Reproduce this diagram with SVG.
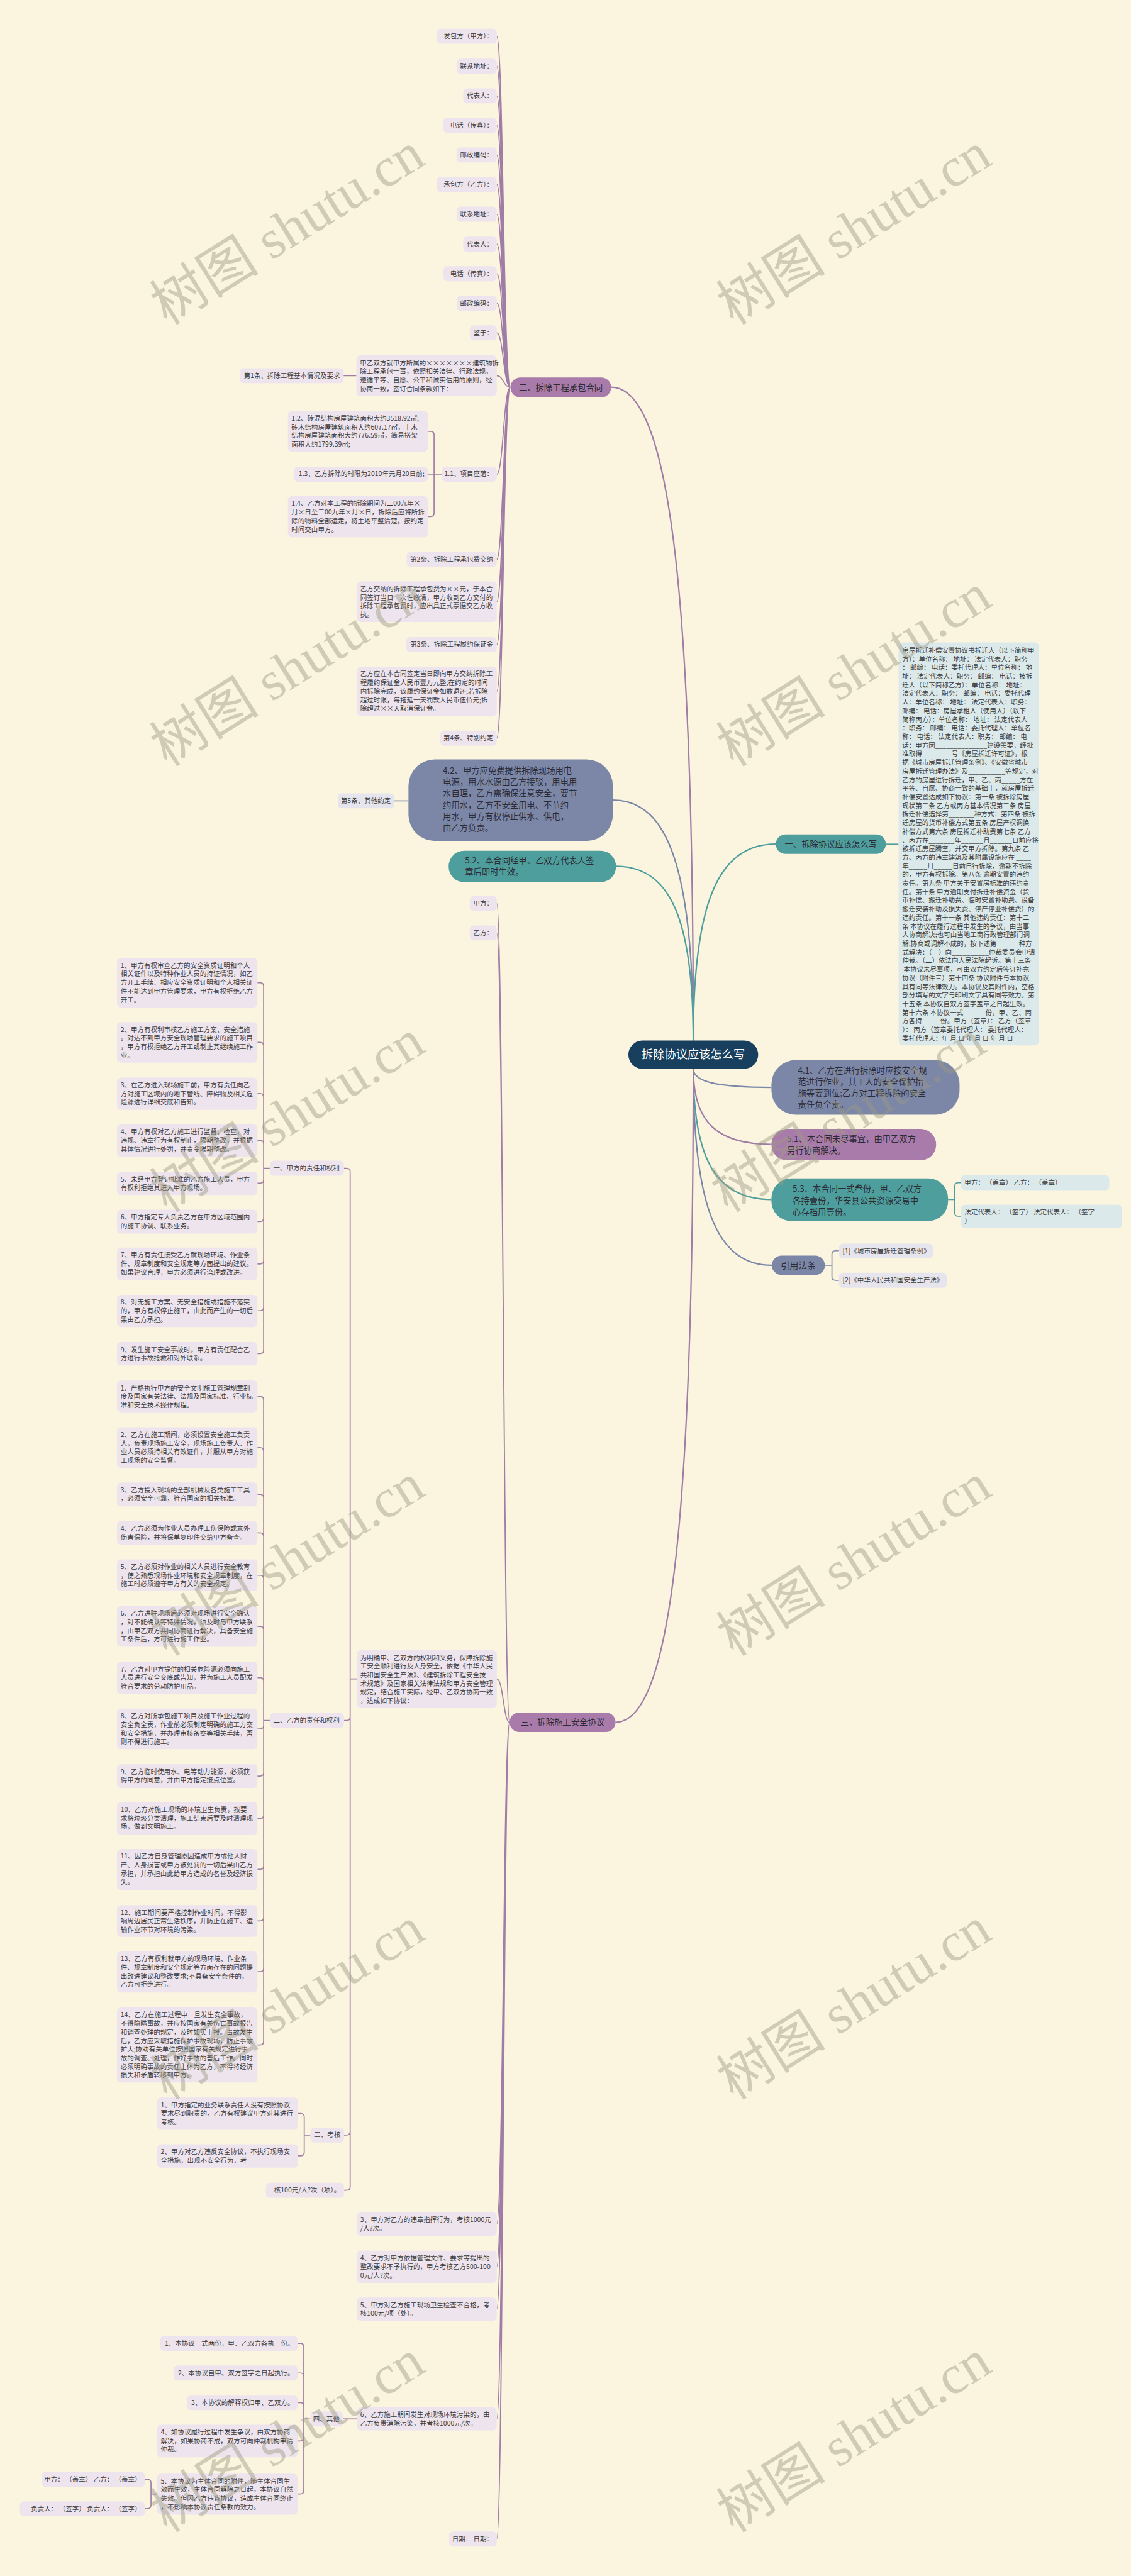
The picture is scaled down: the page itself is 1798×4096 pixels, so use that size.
<svg xmlns="http://www.w3.org/2000/svg" width="1798" height="4096" viewBox="0 0 1798 4096">
<style>
.t{font-family:'Noto Sans CJK SC','Noto Sans',sans-serif;font-size:15px;fill:#3a3a3a}
.e{text-anchor:end}
.m{text-anchor:middle}
.b{font-size:19px;fill:#2c2c36}
.w{fill:#ffffff}
.bx{fill:#EDE4EE}
.bb{fill:#DCE9EB}
.bs{fill:#E6E5EE}
.cp{fill:none;stroke:#A07DA6;stroke-width:2.4}
.cs{fill:none;stroke:#7C87A8;stroke-width:2.4}
.ct{fill:none;stroke:#4E9E9D;stroke-width:2.4}
.k{stroke-width:3.2}
.wm{font-family:'Liberation Serif','Noto Sans CJK SC',serif;font-size:124px;fill:#9c9a84;opacity:0.45}
</style>
<rect x="0" y="0" width="1798" height="4096" fill="#FBF5DF"/>
<g transform="scale(0.702)">
<g id="connectors">
<path class="cp k" d="M1570,2357 C1570,1321 1514,877 1384,877"/>
<path class="cs k" d="M1570,2357 C1570,1976 1515,1812 1388,1812"/>
<path class="ct k" d="M1570,2357 C1570,2080 1517,1962 1395,1962"/>
<path class="ct k" d="M1570,2357 C1570,2045 1626,1912 1757,1912"/>
<path class="cs k" d="M1570,2421 C1570,2450 1623,2463 1747,2463"/>
<path class="cp k" d="M1570,2421 C1570,2541 1623,2592 1747,2592"/>
<path class="ct k" d="M1570,2421 C1570,2628 1623,2717 1747,2717"/>
<path class="cs k" d="M1570,2421 C1570,2732 1623,2866 1748,2866"/>
<path class="cp k" d="M1570,2421 C1570,3457 1517,3901 1394,3901"/>
<path class="cp" d="M1156,877 C1140,877 1140,82 1125,82 M1156,877 C1140,877 1140,150 1125,150 M1156,877 C1140,877 1140,217 1125,217 M1156,877 C1140,877 1140,284 1125,284 M1156,877 C1140,877 1140,351 1125,351 M1156,877 C1140,877 1140,418 1125,418 M1156,877 C1140,877 1140,485 1125,485 M1156,877 C1140,877 1140,553 1125,553 M1156,877 C1140,877 1140,620 1125,620 M1156,877 C1140,877 1140,687 1125,687 M1156,877 C1140,877 1140,754 1125,754 M1156,877 C1140,877 1140,851 1125,851 M1156,877 C1140,877 1140,1074 1125,1074 M1156,877 C1140,877 1140,1267 1125,1267 M1156,877 C1140,877 1140,1363 1125,1363 M1156,877 C1140,877 1140,1460 1125,1460 M1156,877 C1140,877 1140,1566 1125,1566 M1156,877 C1140,877 1140,1672 1125,1672"/>
<path class="cp" d="M807,851 H778"/>
<path class="cp" d="M1000,1074 H983 V985 Q983,977 975,977 H969 M1000,1074 H969 M1000,1074 H983 V1162 Q983,1170 975,1170 H969"/>
<path class="cs" d="M925,1814 H893"/>
<path class="ct" d="M2006,1912 H2035"/>
<path class="ct" d="M2147,2717 H2162 V2687 Q2162,2679 2170,2679 H2176 M2147,2717 H2162 V2747 Q2162,2755 2170,2755 H2176"/>
<path class="cs" d="M1868,2866 H1884 V2841 Q1884,2833 1892,2833 H1900 M1868,2866 H1884 V2892 Q1884,2900 1892,2900 H1900"/>
<path class="cp" d="M1154,3901 C1140,3901 1140,2046 1125,2046 M1154,3901 C1140,3901 1140,2113 1125,2113 M1154,3901 C1140,3901 1140,3803 1125,3803 M1154,3901 C1140,3901 1140,5037 1125,5037 M1154,3901 C1140,3901 1140,5134 1125,5134 M1154,3901 C1140,3901 1140,5230 1125,5230 M1154,3901 C1140,3901 1140,5479 1125,5479 M1154,3901 C1140,3901 1140,5751 1125,5751"/>
<path class="cp" d="M808,3803 H793 V2654 Q793,2646 785,2646 H779 M808,3803 H793 V3889 Q793,3897 785,3897 H779 M808,3803 H793 V4828 Q793,4836 785,4836 H779 M808,3803 H793 V4953 Q793,4961 785,4961 H779"/>
<path class="cp" d="M611,2646 H597 V2234 Q597,2226 589,2226 H583 M611,2646 H597 V2369 Q597,2361 589,2361 H583 M611,2646 H597 V2485 Q597,2477 589,2477 H583 M611,2646 H597 V2591 Q597,2583 589,2583 H583 M611,2646 H597 V2672 Q597,2680 589,2680 H583 M611,2646 H597 V2759 Q597,2767 589,2767 H583 M611,2646 H597 V2855 Q597,2863 589,2863 H583 M611,2646 H597 V2961 Q597,2969 589,2969 H583 M611,2646 H597 V3058 Q597,3066 589,3066 H583"/>
<path class="cp" d="M611,3897 H597 V3171 Q597,3163 589,3163 H583 M611,3897 H597 V3287 Q597,3279 589,3279 H583 M611,3897 H597 V3393 Q597,3385 589,3385 H583 M611,3897 H597 V3480 Q597,3472 589,3472 H583 M611,3897 H597 V3576 Q597,3568 589,3568 H583 M611,3897 H597 V3692 Q597,3684 589,3684 H583 M611,3897 H597 V3808 Q597,3800 589,3800 H583 M611,3897 H597 V3908 Q597,3916 589,3916 H583 M611,3897 H597 V4015 Q597,4023 589,4023 H583 M611,3897 H597 V4111 Q597,4119 589,4119 H583 M611,3897 H597 V4226 Q597,4234 589,4234 H583 M611,3897 H597 V4343 Q597,4351 589,4351 H583 M611,3897 H597 V4458 Q597,4466 589,4466 H583 M611,3897 H597 V4624 Q597,4632 589,4632 H583"/>
<path class="cp" d="M703,4836 H689 V4795 Q689,4787 681,4787 H675 M703,4836 H689 V4875 Q689,4883 681,4883 H675"/>
<path class="cp" d="M808,5479 H777"/>
<path class="cp" d="M703,5479 H688 V5316 Q688,5308 680,5308 H674 M703,5479 H688 V5383 Q688,5375 680,5375 H674 M703,5479 H688 V5450 Q688,5442 680,5442 H674 M703,5479 H688 V5521 Q688,5529 680,5529 H674 M703,5479 H688 V5641 Q688,5649 680,5649 H674"/>
<path class="cp" d="M356,5649 H342 V5624 Q342,5616 334,5616 H328 M356,5649 H342 V5674 Q342,5682 334,5682 H328"/>
</g>

<g id="center"><rect x="1423" y="2357" width="294" height="64" rx="32" fill="#183F5E"/><text class="t m w" x="1570" y="2398" style="font-size:26px">拆除协议应该怎么写</text></g>

<g id="n-er"><rect x="1156" y="855" width="228" height="45" rx="22.5" fill="#A97BAB"/><text class="t b m" x="1270" y="884">二、拆除工程承包合同</text></g>
<g id="n-fbf"><rect class="bx" x="989" y="65" width="136" height="34" rx="9"/><text class="t e" x="1117" y="87">发包方（甲方）：</text></g>
<g id="n-lx1"><rect class="bx" x="1034" y="133" width="91" height="34" rx="9"/><text class="t e" x="1117" y="155">联系地址：</text></g>
<g id="n-db1"><rect class="bx" x="1049" y="200" width="76" height="34" rx="9"/><text class="t e" x="1117" y="222">代表人：</text></g>
<g id="n-dh1"><rect class="bx" x="1004" y="267" width="121" height="34" rx="9"/><text class="t e" x="1117" y="289">电话（传真）：</text></g>
<g id="n-yb1"><rect class="bx" x="1034" y="334" width="91" height="34" rx="9"/><text class="t e" x="1117" y="356">邮政编码：</text></g>
<g id="n-cbf"><rect class="bx" x="989" y="401" width="136" height="34" rx="9"/><text class="t e" x="1117" y="423">承包方（乙方）：</text></g>
<g id="n-lx2"><rect class="bx" x="1034" y="468" width="91" height="34" rx="9"/><text class="t e" x="1117" y="490">联系地址：</text></g>
<g id="n-db2"><rect class="bx" x="1049" y="536" width="76" height="34" rx="9"/><text class="t e" x="1117" y="558">代表人：</text></g>
<g id="n-dh2"><rect class="bx" x="1004" y="603" width="121" height="34" rx="9"/><text class="t e" x="1117" y="625">电话（传真）：</text></g>
<g id="n-yb2"><rect class="bx" x="1034" y="670" width="91" height="34" rx="9"/><text class="t e" x="1117" y="692">邮政编码：</text></g>
<g id="n-jy"><rect class="bx" x="1064" y="737" width="61" height="34" rx="9"/><text class="t e" x="1117" y="759">鉴于：</text></g>
<g id="n-jyss"><rect class="bx" x="807" y="805" width="318" height="92" rx="9"/><text class="t" x="815" y="827"><tspan x="815">甲乙双方就甲方所属的×××××××建筑物拆</tspan><tspan x="815" dy="19.5">除工程承包一事，依照相关法律、行政法规，</tspan><tspan x="815" dy="19.5">遵循平等、自愿、公平和诚实信用的原则，经</tspan><tspan x="815" dy="19.5">协商一致，签订合同条款如下：</tspan></text></g>
<g id="n-t1"><rect class="bx" x="543" y="834" width="235" height="34" rx="9"/><text class="t e" x="770" y="856">第1条、拆除工程基本情况及要求</text></g>
<g id="n-11"><rect class="bx" x="1000" y="1057" width="125" height="34" rx="9"/><text class="t e" x="1117" y="1079">1.1、项目座落：</text></g>
<g id="n-12"><rect class="bx" x="652" y="931" width="317" height="92" rx="9"/><text class="t" x="660" y="953"><tspan x="660">1.2、砖混结构房屋建筑面积大约3518.92㎡;</tspan><tspan x="660" dy="19.5">砖木结构房屋建筑面积大约607.17㎡，土木</tspan><tspan x="660" dy="19.5">结构房屋建筑面积大约776.59㎡，简易搭架</tspan><tspan x="660" dy="19.5">面积大约1799.39㎡;</tspan></text></g>
<g id="n-13"><rect class="bx" x="665" y="1057" width="304" height="34" rx="9"/><text class="t e" x="961" y="1079">1.3、乙方拆除的时限为2010年元月20日前;</text></g>
<g id="n-14"><rect class="bx" x="652" y="1124" width="317" height="93" rx="9"/><text class="t" x="660" y="1146"><tspan x="660">1.4、乙方对本工程的拆除期间为二00九年×</tspan><tspan x="660" dy="19.5">月×日至二00九年×月×日，拆除后应将所拆</tspan><tspan x="660" dy="19.5">除的物料全部运走，将土地平整清楚，按约定</tspan><tspan x="660" dy="19.5">时间交由甲方。</tspan></text></g>
<g id="n-t2"><rect class="bx" x="921" y="1250" width="204" height="34" rx="9"/><text class="t e" x="1117" y="1272">第2条、拆除工程承包费交纳</text></g>
<g id="n-jn"><rect class="bx" x="808" y="1317" width="317" height="92" rx="9"/><text class="t" x="816" y="1339"><tspan x="816">乙方交纳的拆除工程承包费为××元，于本合</tspan><tspan x="816" dy="19.5">同签订当日一次性缴清，甲方收到乙方交付的</tspan><tspan x="816" dy="19.5">拆除工程承包费时，应出具正式票据交乙方收</tspan><tspan x="816" dy="19.5">执。</tspan></text></g>
<g id="n-t3"><rect class="bx" x="920" y="1443" width="205" height="34" rx="9"/><text class="t e" x="1117" y="1465">第3条、拆除工程履约保证金</text></g>
<g id="n-bzj"><rect class="bx" x="808" y="1510" width="317" height="112" rx="9"/><text class="t" x="816" y="1532"><tspan x="816">乙方应在本合同签定当日即向甲方交纳拆除工</tspan><tspan x="816" dy="19.5">程履约保证金人民币壹万元整;在约定的时间</tspan><tspan x="816" dy="19.5">内拆除完成，该履约保证金如数退还;若拆除</tspan><tspan x="816" dy="19.5">超过时限，每拖延一天罚款人民币伍佰元;拆</tspan><tspan x="816" dy="19.5">除超过××天取消保证金。</tspan></text></g>
<g id="n-t4"><rect class="bx" x="997" y="1655" width="128" height="34" rx="9"/><text class="t e" x="1117" y="1677">第4条、特别约定</text></g>

<g id="n-42"><rect x="925" y="1720" width="463" height="185" rx="60" fill="#7C87A8"/><text class="t b" x="1003" y="1752"><tspan x="1003">4.2、甲方应免费提供拆除现场用电</tspan><tspan x="1003" dy="26">电源，用水水源由乙方接驳，用电用</tspan><tspan x="1003" dy="26">水自理，乙方需确保注意安全，要节</tspan><tspan x="1003" dy="26">约用水，乙方不安全用电、不节约</tspan><tspan x="1003" dy="26">用水，甲方有权停止供水、供电，</tspan><tspan x="1003" dy="26">由乙方负责。</tspan></text></g>
<g id="n-t5"><rect class="bs" x="765" y="1797" width="128" height="34" rx="9"/><text class="t e" x="885" y="1819">第5条、其他约定</text></g>
<g id="n-52"><rect x="1016" y="1927" width="379" height="71" rx="35" fill="#4E9E9D"/><text class="t b" x="1053" y="1956"><tspan x="1053">5.2、本合同经甲、乙双方代表人签</tspan><tspan x="1053" dy="26">章后即时生效。</tspan></text></g>
<g id="n-jf"><rect class="bx" x="1064" y="2029" width="61" height="34" rx="9"/><text class="t e" x="1117" y="2051">甲方：</text></g>
<g id="n-yf"><rect class="bx" x="1064" y="2096" width="61" height="34" rx="9"/><text class="t e" x="1117" y="2118">乙方：</text></g>

<g id="n-yi"><rect x="1757" y="1890" width="249" height="44" rx="22" fill="#4E9E9D"/><text class="t b m" x="1881.5" y="1919">一、拆除协议应该怎么写</text></g>
<g id="n-block"><rect class="bb" x="2035" y="1455" width="318" height="913" rx="10"/><text class="t" x="2043" y="1478.5"><tspan x="2043">房屋拆迁补偿安置协议书拆迁人（以下简称甲</tspan><tspan x="2043" dy="19.53">方）：单位名称： 地址： 法定代表人：职务</tspan><tspan x="2043" dy="19.53">： 邮编： 电话：委托代理人：单位名称： 地</tspan><tspan x="2043" dy="19.53">址： 法定代表人：职务： 邮编： 电话：被拆</tspan><tspan x="2043" dy="19.53">迁人（以下简称乙方）：单位名称： 地址：</tspan><tspan x="2043" dy="19.53">法定代表人：职务： 邮编： 电话：委托代理</tspan><tspan x="2043" dy="19.53">人：单位名称： 地址： 法定代表人：职务：</tspan><tspan x="2043" dy="19.53">邮编： 电话：房屋承租人（使用人）（以下</tspan><tspan x="2043" dy="19.53">简称丙方）：单位名称： 地址： 法定代表人</tspan><tspan x="2043" dy="19.53">：职务： 邮编： 电话：委托代理人：单位名</tspan><tspan x="2043" dy="19.53">称： 电话： 法定代表人：职务： 邮编： 电</tspan><tspan x="2043" dy="19.53">话：甲方因______________建设需要，经批</tspan><tspan x="2043" dy="19.53">准取得________号《房屋拆迁许可证》，根</tspan><tspan x="2043" dy="19.53">据《城市房屋拆迁管理条例》、《安徽省城市</tspan><tspan x="2043" dy="19.53">房屋拆迁管理办法》及__________等规定，对</tspan><tspan x="2043" dy="19.53">乙方的房屋进行拆迁，甲、乙、丙_____方在</tspan><tspan x="2043" dy="19.53">平等、自愿、协商一致的基础上，就房屋拆迁</tspan><tspan x="2043" dy="19.53">补偿安置达成如下协议：第一条 被拆除房屋</tspan><tspan x="2043" dy="19.53">现状第二条 乙方或丙方基本情况第三条 房屋</tspan><tspan x="2043" dy="19.53">拆迁补偿选择第_______种方式：第四条 被拆</tspan><tspan x="2043" dy="19.53">迁房屋的货币补偿方式第五条 房屋产权调换</tspan><tspan x="2043" dy="19.53">补偿方式第六条 房屋拆迁补助费第七条 乙方</tspan><tspan x="2043" dy="19.53">、丙方在_______年______月______日前应将</tspan><tspan x="2043" dy="19.53">被拆迁房屋腾空，并交甲方拆除。第九条 乙</tspan><tspan x="2043" dy="19.53">方、丙方的违章建筑及其附属设施应在 ____</tspan><tspan x="2043" dy="19.53">年_____月_____日前自行拆除，逾期不拆除</tspan><tspan x="2043" dy="19.53">的，甲方有权拆除。第八条 逾期安置的违约</tspan><tspan x="2043" dy="19.53">责任。第九条 甲方关于安置房标准的违约责</tspan><tspan x="2043" dy="19.53">任。第十条 甲方逾期支付拆迁补偿资金（货</tspan><tspan x="2043" dy="19.53">币补偿、搬迁补助费、临时安置补助费、设备</tspan><tspan x="2043" dy="19.53">搬迁安装补助及损失费、停产停业补偿费）的</tspan><tspan x="2043" dy="19.53">违约责任。第十一条 其他违约责任：第十二</tspan><tspan x="2043" dy="19.53">条 本协议在履行过程中发生的争议，由当事</tspan><tspan x="2043" dy="19.53">人协商解决;也可由当地工商行政管理部门调</tspan><tspan x="2043" dy="19.53">解;协商或调解不成的，按下述第______种方</tspan><tspan x="2043" dy="19.53">式解决：（一）向__________仲裁委员会申请</tspan><tspan x="2043" dy="19.53">仲裁。（二）依法向人民法院起诉。第十三条</tspan><tspan x="2043" dy="19.53"> 本协议未尽事项，可由双方约定后签订补充</tspan><tspan x="2043" dy="19.53">协议（附件三）第十四条 协议附件与本协议</tspan><tspan x="2043" dy="19.53">具有同等法律效力。本协议及其附件内，空格</tspan><tspan x="2043" dy="19.53">部分填写的文字与印刷文字具有同等效力。第</tspan><tspan x="2043" dy="19.53">十五条 本协议自双方签字盖章之日起生效。</tspan><tspan x="2043" dy="19.53">第十六条 本协议一式______份，甲、乙、丙</tspan><tspan x="2043" dy="19.53">方各持_____份。甲方（签章）： 乙方（签章</tspan><tspan x="2043" dy="19.53">）： 丙方（签章委托代理人： 委托代理人：</tspan><tspan x="2043" dy="19.53">委托代理人：年 月 日 年 月 日 年 月 日</tspan></text></g>

<g id="n-41"><rect x="1747" y="2401" width="426" height="124" rx="55" fill="#7C87A8"/><text class="t b" x="1807" y="2431"><tspan x="1807">4.1、乙方在进行拆除时应按安全规</tspan><tspan x="1807" dy="26">范进行作业，其工人的安全保护措</tspan><tspan x="1807" dy="26">施等要到位;乙方对工程拆除的安全</tspan><tspan x="1807" dy="26">责任负全责。</tspan></text></g>
<g id="n-51"><rect x="1747" y="2557" width="373" height="71" rx="35" fill="#A97BAB"/><text class="t b" x="1782" y="2587"><tspan x="1782">5.1、本合同未尽事宜，由甲乙双方</tspan><tspan x="1782" dy="26">另行协商解决。</tspan></text></g>
<g id="n-53"><rect x="1747" y="2669" width="400" height="97" rx="45" fill="#4E9E9D"/><text class="t b" x="1795" y="2700"><tspan x="1795">5.3、本合同一式叁份，甲、乙双方</tspan><tspan x="1795" dy="26">各持壹份，华安县公共资源交易中</tspan><tspan x="1795" dy="26">心存档用壹份。</tspan></text></g>
<g id="n-53a"><rect class="bb" x="2176" y="2662" width="336" height="34" rx="9"/><text class="t" x="2184" y="2684">甲方： （盖章） 乙方： （盖章）</text></g>
<g id="n-53b"><rect class="bb" x="2176" y="2729" width="365" height="53" rx="9"/><text class="t" x="2184" y="2751"><tspan x="2184">法定代表人： （签字） 法定代表人： （签字</tspan><tspan x="2184" dy="19.5">）</tspan></text></g>
<g id="n-yyft"><rect x="1748" y="2844" width="120" height="44" rx="22" fill="#7C87A8"/><text class="t m" x="1808" y="2873" style="font-size:20px;fill:#2c2c36">引用法条</text></g>
<g id="n-l1"><rect class="bs" x="1900" y="2817" width="213" height="33" rx="9"/><text class="t" x="1908" y="2839">[1]《城市房屋拆迁管理条例》</text></g>
<g id="n-l2"><rect class="bs" x="1900" y="2883" width="244" height="34" rx="9"/><text class="t" x="1908" y="2905">[2]《中华人民共和国安全生产法》</text></g>

<g id="n-san"><rect x="1154" y="3879" width="240" height="44" rx="22" fill="#A97BAB"/><text class="t b m" x="1274" y="3908">三、拆除施工安全协议</text></g>
<g id="n-wmq"><rect class="bx" x="808" y="3738" width="317" height="131" rx="9"/><text class="t" x="816" y="3760"><tspan x="816">为明确甲、乙双方的权利和义务，保障拆除施</tspan><tspan x="816" dy="19.5">工安全顺利进行及人身安全，依据《中华人民</tspan><tspan x="816" dy="19.5">共和国安全生产法》、《建筑拆除工程安全技</tspan><tspan x="816" dy="19.5">术规范》及国家相关法律法规和甲方安全管理</tspan><tspan x="816" dy="19.5">规定，结合施工实际，经甲、乙双方协商一致</tspan><tspan x="816" dy="19.5">，达成如下协议：</tspan></text></g>
<g id="n-k3"><rect class="bx" x="808" y="5011" width="317" height="53" rx="9"/><text class="t" x="816" y="5033"><tspan x="816">3、甲方对乙方的违章指挥行为，考核1000元</tspan><tspan x="816" dy="19.5">/人?次。</tspan></text></g>
<g id="n-k4"><rect class="bx" x="808" y="5098" width="317" height="73" rx="9"/><text class="t" x="816" y="5120"><tspan x="816">4、乙方对甲方依据管理文件、要求等提出的</tspan><tspan x="816" dy="19.5">整改要求不予执行的，甲方考核乙方500-100</tspan><tspan x="816" dy="19.5">0元/人?次。</tspan></text></g>
<g id="n-k5"><rect class="bx" x="808" y="5204" width="317" height="53" rx="9"/><text class="t" x="816" y="5226"><tspan x="816">5、甲方对乙方施工现场卫生检查不合格，考</tspan><tspan x="816" dy="19.5">核100元/项（处）。</tspan></text></g>
<g id="n-k6"><rect class="bx" x="808" y="5453" width="317" height="52" rx="9"/><text class="t" x="816" y="5475"><tspan x="816">6、乙方施工期间发生对现场环境污染的，由</tspan><tspan x="816" dy="19.5">乙方负责消除污染，并考核1000元/次。</tspan></text></g>
<g id="n-rq"><rect class="bx" x="1017" y="5734" width="108" height="34" rx="9"/><text class="t e" x="1117" y="5756">日期： 日期：</text></g>

<g id="n-jfzr"><rect class="bx" x="611" y="2629" width="168" height="34" rx="9"/><text class="t" x="619" y="2651">一、甲方的责任和权利</text></g>
<g id="n-yfzr"><rect class="bx" x="611" y="3880" width="168" height="34" rx="9"/><text class="t" x="619" y="3902">二、乙方的责任和权利</text></g>
<g id="n-kh"><rect class="bx" x="703" y="4819" width="76" height="34" rx="9"/><text class="t" x="711" y="4841">三、考核</text></g>
<g id="n-k100"><rect class="bx" x="602" y="4944" width="177" height="34" rx="9"/><text class="t e" x="771" y="4966">核100元/人?次（项）。</text></g>

<g id="n-j1"><rect class="bx" x="265" y="2170" width="318" height="112" rx="9"/><text class="t" x="273" y="2192"><tspan x="273">1、甲方有权审查乙方的安全资质证明和个人</tspan><tspan x="273" dy="19.5">相关证件以及特种作业人员的持证情况，如乙</tspan><tspan x="273" dy="19.5">方开工手续、相应安全资质证明和个人相关证</tspan><tspan x="273" dy="19.5">件不能达到甲方管理要求，甲方有权拒绝乙方</tspan><tspan x="273" dy="19.5">开工。</tspan></text></g>
<g id="n-j2"><rect class="bx" x="265" y="2315" width="318" height="92" rx="9"/><text class="t" x="273" y="2337"><tspan x="273">2、甲方有权利审核乙方施工方案、安全措施</tspan><tspan x="273" dy="19.5">。对达不到甲方安全现场管理要求的施工项目</tspan><tspan x="273" dy="19.5">，甲方有权拒绝乙方开工或制止其继续施工作</tspan><tspan x="273" dy="19.5">业。</tspan></text></g>
<g id="n-j3"><rect class="bx" x="265" y="2441" width="318" height="73" rx="9"/><text class="t" x="273" y="2463"><tspan x="273">3、在乙方进入现场施工前，甲方有责任向乙</tspan><tspan x="273" dy="19.5">方对施工区域内的地下管线、障碍物及相关危</tspan><tspan x="273" dy="19.5">险源进行详细交底和告知。</tspan></text></g>
<g id="n-j4"><rect class="bx" x="265" y="2547" width="318" height="73" rx="9"/><text class="t" x="273" y="2569"><tspan x="273">4、甲方有权对乙方施工进行监督、检查，对</tspan><tspan x="273" dy="19.5">违规、违章行为有权制止，限期整改，并根据</tspan><tspan x="273" dy="19.5">具体情况进行处罚，并责令限期整改。</tspan></text></g>
<g id="n-j5"><rect class="bx" x="265" y="2654" width="318" height="53" rx="9"/><text class="t" x="273" y="2676"><tspan x="273">5、未经甲方登记批准的乙方施工人员，甲方</tspan><tspan x="273" dy="19.5">有权利拒绝其进入甲方现场。</tspan></text></g>
<g id="n-j6"><rect class="bx" x="265" y="2740" width="318" height="54" rx="9"/><text class="t" x="273" y="2762"><tspan x="273">6、甲方指定专人负责乙方在甲方区域范围内</tspan><tspan x="273" dy="19.5">的施工协调、联系业务。</tspan></text></g>
<g id="n-j7"><rect class="bx" x="265" y="2826" width="318" height="74" rx="9"/><text class="t" x="273" y="2848"><tspan x="273">7、甲方有责任接受乙方就现场环境、作业条</tspan><tspan x="273" dy="19.5">件、规章制度和安全规定等方面提出的建议。</tspan><tspan x="273" dy="19.5">如果建议合理，甲方必须进行治理或改进。</tspan></text></g>
<g id="n-j8"><rect class="bx" x="265" y="2933" width="318" height="73" rx="9"/><text class="t" x="273" y="2955"><tspan x="273">8、对无施工方案、无安全措施或措施不落实</tspan><tspan x="273" dy="19.5">的，甲方有权停止施工，由此而产生的一切后</tspan><tspan x="273" dy="19.5">果由乙方承担。</tspan></text></g>
<g id="n-j9"><rect class="bx" x="265" y="3040" width="318" height="53" rx="9"/><text class="t" x="273" y="3062"><tspan x="273">9、发生施工安全事故时，甲方有责任配合乙</tspan><tspan x="273" dy="19.5">方进行事故抢救和对外联系。</tspan></text></g>

<g id="n-y1"><rect class="bx" x="265" y="3127" width="318" height="72" rx="9"/><text class="t" x="273" y="3149"><tspan x="273">1、严格执行甲方的安全文明施工管理规章制</tspan><tspan x="273" dy="19.5">度及国家有关法律、法规及国家标准、行业标</tspan><tspan x="273" dy="19.5">准和安全技术操作规程。</tspan></text></g>
<g id="n-y2"><rect class="bx" x="265" y="3233" width="318" height="92" rx="9"/><text class="t" x="273" y="3255"><tspan x="273">2、乙方在施工期间，必须设置安全施工负责</tspan><tspan x="273" dy="19.5">人，负责现场施工安全，现场施工负责人、作</tspan><tspan x="273" dy="19.5">业人员必须持相关有效证件，并服从甲方对施</tspan><tspan x="273" dy="19.5">工现场的安全监督。</tspan></text></g>
<g id="n-y3"><rect class="bx" x="265" y="3358" width="318" height="54" rx="9"/><text class="t" x="273" y="3380"><tspan x="273">3、乙方投入现场的全部机械及各类施工工具</tspan><tspan x="273" dy="19.5">，必须安全可靠，符合国家的相关标准。</tspan></text></g>
<g id="n-y4"><rect class="bx" x="265" y="3445" width="318" height="54" rx="9"/><text class="t" x="273" y="3467"><tspan x="273">4、乙方必须为作业人员办理工伤保险或意外</tspan><tspan x="273" dy="19.5">伤害保险，并将保单复印件交给甲方备查。</tspan></text></g>
<g id="n-y5"><rect class="bx" x="265" y="3532" width="318" height="72" rx="9"/><text class="t" x="273" y="3554"><tspan x="273">5、乙方必须对作业的相关人员进行安全教育</tspan><tspan x="273" dy="19.5">，使之熟悉现场作业环境和安全规章制度，在</tspan><tspan x="273" dy="19.5">施工时必须遵守甲方有关的安全规定。</tspan></text></g>
<g id="n-y6"><rect class="bx" x="265" y="3638" width="318" height="92" rx="9"/><text class="t" x="273" y="3660"><tspan x="273">6、乙方进驻现场后必须对现场进行安全确认</tspan><tspan x="273" dy="19.5">，对不能确认等特殊情况，须及时与甲方联系</tspan><tspan x="273" dy="19.5">，由甲乙双方共同协商进行解决，具备安全施</tspan><tspan x="273" dy="19.5">工条件后，方可进行施工作业。</tspan></text></g>
<g id="n-y7"><rect class="bx" x="265" y="3764" width="318" height="73" rx="9"/><text class="t" x="273" y="3786"><tspan x="273">7、乙方对甲方提供的相关危险源必须向施工</tspan><tspan x="273" dy="19.5">人员进行安全交底或告知，并为施工人员配发</tspan><tspan x="273" dy="19.5">符合要求的劳动防护用品。</tspan></text></g>
<g id="n-y8"><rect class="bx" x="265" y="3870" width="318" height="92" rx="9"/><text class="t" x="273" y="3892"><tspan x="273">8、乙方对所承包施工项目及施工作业过程的</tspan><tspan x="273" dy="19.5">安全负全责，作业前必须制定明确的施工方案</tspan><tspan x="273" dy="19.5">和安全措施，并办理审核备案等相关手续，否</tspan><tspan x="273" dy="19.5">则不得进行施工。</tspan></text></g>
<g id="n-y9"><rect class="bx" x="265" y="3996" width="318" height="54" rx="9"/><text class="t" x="273" y="4018"><tspan x="273">9、乙方临时使用水、电等动力能源，必须获</tspan><tspan x="273" dy="19.5">得甲方的同意，并由甲方指定接点位置。</tspan></text></g>
<g id="n-y10"><rect class="bx" x="265" y="4082" width="318" height="74" rx="9"/><text class="t" x="273" y="4104"><tspan x="273">10、乙方对施工现场的环境卫生负责，按要</tspan><tspan x="273" dy="19.5">求将垃圾分类清理，施工结束后要及时清理现</tspan><tspan x="273" dy="19.5">场，做到文明施工。</tspan></text></g>
<g id="n-y11"><rect class="bx" x="265" y="4188" width="318" height="93" rx="9"/><text class="t" x="273" y="4210"><tspan x="273">11、因乙方自身管理原因造成甲方或他人财</tspan><tspan x="273" dy="19.5">产、人身损害或甲方被处罚的一切后果由乙方</tspan><tspan x="273" dy="19.5">承担，并承担由此给甲方造成的名誉及经济损</tspan><tspan x="273" dy="19.5">失。</tspan></text></g>
<g id="n-y12"><rect class="bx" x="265" y="4315" width="318" height="72" rx="9"/><text class="t" x="273" y="4337"><tspan x="273">12、施工期间要严格控制作业时间，不得影</tspan><tspan x="273" dy="19.5">响周边居民正常生活秩序，并防止在施工、运</tspan><tspan x="273" dy="19.5">输作业环节对环境的污染。</tspan></text></g>
<g id="n-y13"><rect class="bx" x="265" y="4420" width="318" height="93" rx="9"/><text class="t" x="273" y="4442"><tspan x="273">13、乙方有权利就甲方的现场环境、作业条</tspan><tspan x="273" dy="19.5">件、规章制度和安全规定等方面存在的问题提</tspan><tspan x="273" dy="19.5">出改进建议和整改要求;不具备安全条件的，</tspan><tspan x="273" dy="19.5">乙方可拒绝进行。</tspan></text></g>
<g id="n-y14"><rect class="bx" x="265" y="4547" width="318" height="170" rx="9"/><text class="t" x="273" y="4569"><tspan x="273">14、乙方在施工过程中一旦发生安全事故，</tspan><tspan x="273" dy="19.5">不得隐瞒事故，并应按国家有关伤亡事故报告</tspan><tspan x="273" dy="19.5">和调查处理的规定，及时如实上报。事故发生</tspan><tspan x="273" dy="19.5">后，乙方应采取措施保护事故现场，防止事故</tspan><tspan x="273" dy="19.5">扩大;协助有关单位按照国家有关规定进行事</tspan><tspan x="273" dy="19.5">故的调查、处理，作好事故的善后工作。同时</tspan><tspan x="273" dy="19.5">必须明确事故的责任主体为乙方，不得将经济</tspan><tspan x="273" dy="19.5">损失和矛盾转移到甲方。</tspan></text></g>

<g id="n-kh1"><rect class="bx" x="356" y="4751" width="319" height="73" rx="9"/><text class="t" x="364" y="4773"><tspan x="364">1、甲方指定的业务联系责任人没有按照协议</tspan><tspan x="364" dy="19.5">要求尽到职责的，乙方有权建议甲方对其进行</tspan><tspan x="364" dy="19.5">考核。</tspan></text></g>
<g id="n-kh2"><rect class="bx" x="356" y="4857" width="319" height="53" rx="9"/><text class="t" x="364" y="4879"><tspan x="364">2、甲方对乙方违反安全协议，不执行现场安</tspan><tspan x="364" dy="19.5">全措施，出现不安全行为，考</tspan></text></g>

<g id="n-qt"><rect class="bx" x="703" y="5462" width="74" height="34" rx="9"/><text class="t e" x="769" y="5484">四、其他</text></g>
<g id="n-q1"><rect class="bx" x="362" y="5291" width="312" height="34" rx="9"/><text class="t e" x="666" y="5313">1、本协议一式两份，甲、乙双方各执一份。</text></g>
<g id="n-q2"><rect class="bx" x="393" y="5358" width="281" height="34" rx="9"/><text class="t e" x="666" y="5380">2、本协议自甲、双方签字之日起执行。</text></g>
<g id="n-q3"><rect class="bx" x="423" y="5425" width="251" height="34" rx="9"/><text class="t e" x="666" y="5447">3、本协议的解释权归甲、乙双方。</text></g>
<g id="n-q4"><rect class="bx" x="356" y="5492" width="318" height="74" rx="9"/><text class="t" x="364" y="5514"><tspan x="364">4、如协议履行过程中发生争议，由双方协商</tspan><tspan x="364" dy="19.5">解决，如果协商不成，双方可向仲裁机构申请</tspan><tspan x="364" dy="19.5">仲裁。</tspan></text></g>
<g id="n-q5"><rect class="bx" x="356" y="5603" width="318" height="93" rx="9"/><text class="t" x="364" y="5625"><tspan x="364">5、本协议为主体合同的附件，随主体合同生</tspan><tspan x="364" dy="19.5">效而生效，主体合同解除之日起，本协议自然</tspan><tspan x="364" dy="19.5">失效。但因乙方违背协议，造成主体合同终止</tspan><tspan x="364" dy="19.5">，不影响本协议责任条款的效力。</tspan></text></g>
<g id="n-s1"><rect class="bx" x="95" y="5599" width="233" height="34" rx="9"/><text class="t e" x="320" y="5621">甲方： （盖章） 乙方： （盖章）</text></g>
<g id="n-s2"><rect class="bx" x="45" y="5666" width="283" height="33" rx="9"/><text class="t e" x="320" y="5688">负责人： （签字） 负责人： （签字）</text></g>

<g id="watermarks">
<text class="wm m" transform="translate(652,520) rotate(-32)" y="40">树图 shutu.cn</text>
<text class="wm m" transform="translate(1935,520) rotate(-32)" y="40">树图 shutu.cn</text>
<text class="wm m" transform="translate(652,1520) rotate(-32)" y="40">树图 shutu.cn</text>
<text class="wm m" transform="translate(1935,1520) rotate(-32)" y="40">树图 shutu.cn</text>
<text class="wm m" transform="translate(652,2530) rotate(-32)" y="40">树图 shutu.cn</text>
<text class="wm m" transform="translate(1922,2530) rotate(-32)" y="40">树图 shutu.cn</text>
<text class="wm m" transform="translate(652,3535) rotate(-32)" y="40">树图 shutu.cn</text>
<text class="wm m" transform="translate(1935,3535) rotate(-32)" y="40">树图 shutu.cn</text>
<text class="wm m" transform="translate(652,4540) rotate(-32)" y="40">树图 shutu.cn</text>
<text class="wm m" transform="translate(1935,4540) rotate(-32)" y="40">树图 shutu.cn</text>
<text class="wm m" transform="translate(652,5520) rotate(-32)" y="40">树图 shutu.cn</text>
<text class="wm m" transform="translate(1935,5520) rotate(-32)" y="40">树图 shutu.cn</text>
</g>
</g>
</svg>
